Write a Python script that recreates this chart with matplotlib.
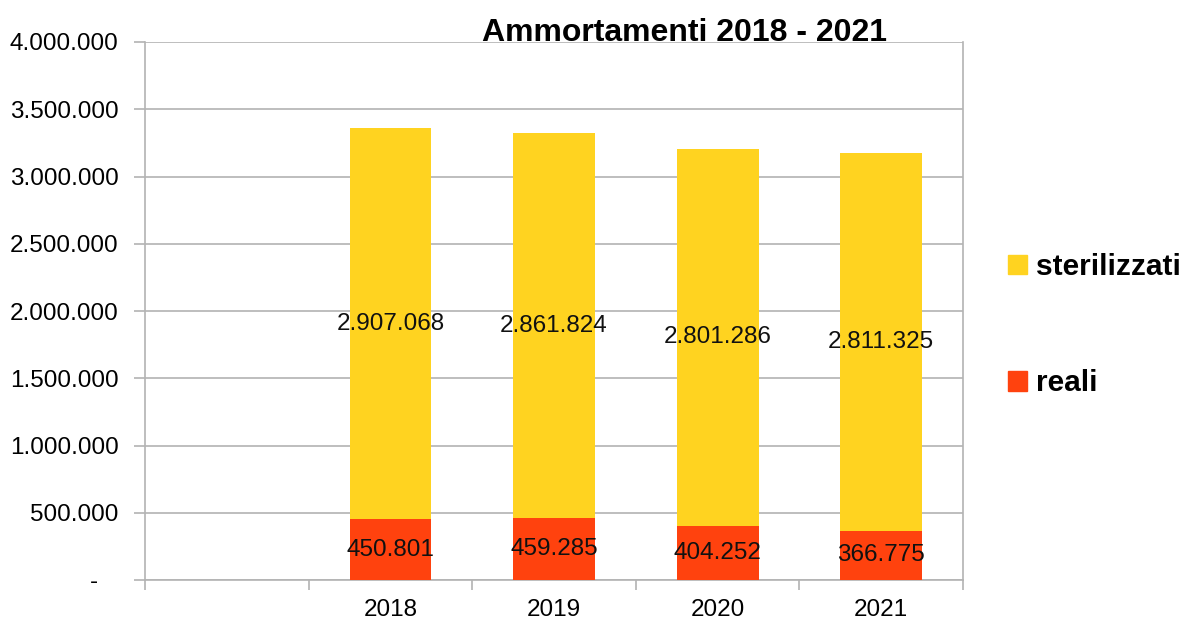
import matplotlib
matplotlib.use("Agg")
import matplotlib.pyplot as plt
from matplotlib.patches import Patch

plt.rcParams['font.family'] = ['Liberation Sans', 'DejaVu Sans']

categories = ["", "2018", "2019", "2020", "2021"]
reali = [None, 450801, 459285, 404252, 366775]
sterilizzati = [None, 2907068, 2861824, 2801286, 2811325]
yticks = [0, 500000, 1000000, 1500000, 2000000, 2500000, 3000000, 3500000, 4000000]
title = "Ammortamenti 2018 - 2021"

col_ster = "#FFD320"
col_reali = "#FF420E"
grid_col = "#B3B3B3"

def fmt(v):
    return f"{v:,}".replace(",", ".")

fig = plt.figure(figsize=(11.94, 6.21), dpi=100)
ax = fig.add_axes([145/1194, 1-580/621, (963-145)/1194, (580-42)/621])

xs = [i for i, v in enumerate(reali) if v is not None]
rv = [reali[i] for i in xs]
sv = [sterilizzati[i] for i in xs]

ax.bar(xs, rv, width=0.5, color=col_reali, zorder=3)
ax.bar(xs, sv, width=0.5, bottom=rv, color=col_ster, zorder=3)

for x, r, s in zip(xs, rv, sv):
    ax.text(x, r/2, fmt(r), ha='center', va='center', fontsize=17.5, color='#111111', zorder=4)
    ax.text(x, r + s/2, fmt(s), ha='center', va='center', fontsize=17.5, color='#111111', zorder=4)

ax.set_xlim(-0.5, len(categories)-0.5)
ax.set_ylim(0, 4000000)
ax.set_yticks(yticks)
ax.set_yticklabels([fmt(v) if v else "-   " for v in yticks], fontsize=17.5)
ax.set_xticks(range(len(categories)))
ax.set_xticklabels(categories, fontsize=17.5)
ax.set_xticks([i - 0.5 for i in range(len(categories)+1)], minor=True)
ax.tick_params(axis='x', which='major', length=0, pad=14)
ax.tick_params(axis='x', which='minor', length=7, color=grid_col, width=1.2)
ax.tick_params(axis='y', length=8, color=grid_col, width=1.2, pad=11)

ax.grid(axis='y', color=grid_col, linewidth=1.2, zorder=0)
for side in ['left', 'bottom', 'right']:
    ax.spines[side].set_color(grid_col)
    ax.spines[side].set_linewidth(1.2)
ax.spines['top'].set_visible(False)

fig.text(684/1194, 1-33/621, title, ha='center', va='center', fontsize=23, fontweight='bold')

handles = [Patch(color=col_ster, label='sterilizzati'), Patch(color=col_reali, label='reali')]
leg = fig.legend(handles=handles, loc='upper left', bbox_to_anchor=(1008/1194, 1-253/621),
                 frameon=False, prop={'size': 21.5, 'weight': 'bold'},
                 handlelength=0.65, handleheight=0.65, handletextpad=0.3, labelspacing=2.95,
                 borderaxespad=0, borderpad=0)

fig.savefig("out.png", dpi=100)
